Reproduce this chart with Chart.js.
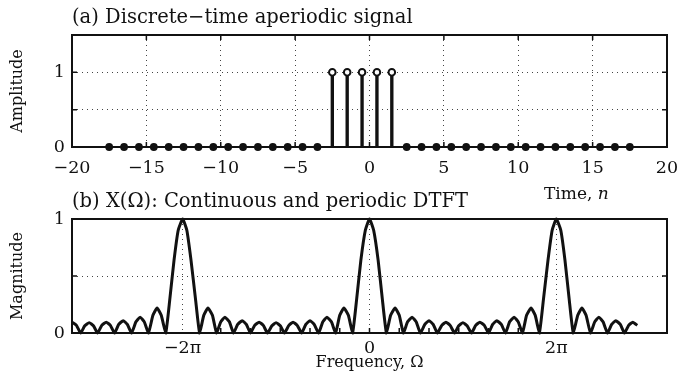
<!DOCTYPE html>
<html>
<head>
<meta charset="utf-8">
<script src="https://cdn.jsdelivr.net/npm/chart.js@4.4.0/dist/chart.umd.min.js"></script>
<style>
  html, body { margin: 0; padding: 0; background: #fff; }
  #wrap { position: relative; width: 680px; height: 383px; overflow: hidden; font-family: "DejaVu Serif", serif; }
  canvas { position: absolute; left: 0; }
  #timeLabel { position: absolute; left: 544px; top: 183px; font-size: 17px; line-height: 20px; color: #111; white-space: nowrap; z-index: 5; }
</style>
</head>
<body>
<div id="wrap">
  <canvas id="sigChart" width="680" height="190" style="top:0"></canvas>
  <canvas id="dtftChart" width="680" height="199" style="top:184px"></canvas>
  <div id="timeLabel">Time, <i>n</i></div>
</div>
<script>
// (a) discrete-time signal
const timeN = [-17.5, -16.5, -15.5, -14.5, -13.5, -12.5, -11.5, -10.5, -9.5, -8.5, -7.5, -6.5,
  -5.5, -4.5, -3.5, -2.5, -1.5, -0.5, 0.5, 1.5, 2.5, 3.5, 4.5, 5.5, 6.5, 7.5, 8.5, 9.5,
  10.5, 11.5, 12.5, 13.5, 14.5, 15.5, 16.5, 17.5];
const amplitude = [0, 0, 0, 0, 0, 0, 0, 0, 0, 0, 0, 0, 0, 0, 0,
  1, 1, 1, 1, 1,
  0, 0, 0, 0, 0, 0, 0, 0, 0, 0, 0, 0, 0, 0, 0, 0];
const timeTicks = [-20, -15, -10, -5, 0, 5, 10, 15, 20];
const ampTicks = [0, 0.5, 1, 1.5];
const ampLabels = ['0', '', '1', ''];

// (b) DTFT magnitude (nulls, lobe flanks and peaks)
const freq = [
  -10.00, -9.85, -9.71,
  -9.57, -9.42, -9.28, -9.14,
  -9.00, -8.85, -8.71, -8.57,
  -8.43, -8.28, -8.14, -8.00,
  -7.85, -7.71, -7.57, -7.43,
  -7.28, -7.14, -7.00, -6.85,
  -6.71, -6.57, -6.43, -6.28, -6.14, -6.00, -5.85, -5.71,
  -5.57, -5.43, -5.28, -5.14,
  -5.00, -4.86, -4.71, -4.57,
  -4.43, -4.28, -4.14, -4.00,
  -3.86, -3.71, -3.57, -3.43,
  -3.28, -3.14, -3.00, -2.86,
  -2.71, -2.57, -2.43, -2.28,
  -2.14, -2.00, -1.86, -1.71,
  -1.57, -1.43, -1.28, -1.14,
  -1.00, -0.86, -0.71, -0.57,
  -0.43, -0.29, -0.14, 0, 0.14, 0.29, 0.43, 0.57,
  0.71, 0.86, 1.00, 1.14,
  1.28, 1.43, 1.57, 1.71,
  1.86, 2.00, 2.14, 2.28,
  2.43, 2.57, 2.71, 2.86,
  3.00, 3.14, 3.28, 3.43,
  3.57, 3.71, 3.86, 4.00,
  4.14, 4.28, 4.43, 4.57,
  4.71, 4.86, 5.00, 5.14,
  5.28, 5.43, 5.57, 5.71,
  5.85, 6.00, 6.14, 6.28, 6.43, 6.57, 6.71, 6.85,
  7.00, 7.14, 7.28, 7.43,
  7.57, 7.71, 7.85, 8.00,
  8.14, 8.28, 8.43, 8.57,
  8.71, 8.85, 9.00
];
const magnitude = [
  0.095, 0.067, 0,
  0.064, 0.091, 0.064, 0,
  0.067, 0.095, 0.067, 0,
  0.076, 0.108, 0.076, 0,
  0.098, 0.139, 0.098, 0,
  0.155, 0.219, 0.155, 0,
  0.302, 0.639, 0.901, 1, 0.901, 0.639, 0.302, 0,
  0.155, 0.219, 0.155, 0,
  0.098, 0.139, 0.098, 0,
  0.076, 0.108, 0.076, 0,
  0.067, 0.095, 0.067, 0,
  0.064, 0.091, 0.064, 0,
  0.067, 0.095, 0.067, 0,
  0.076, 0.108, 0.076, 0,
  0.098, 0.139, 0.098, 0,
  0.155, 0.219, 0.155, 0,
  0.302, 0.639, 0.901, 1, 0.901, 0.639, 0.302, 0,
  0.155, 0.219, 0.155, 0,
  0.098, 0.139, 0.098, 0,
  0.076, 0.108, 0.076, 0,
  0.067, 0.095, 0.067, 0,
  0.064, 0.091, 0.064, 0,
  0.067, 0.095, 0.067, 0,
  0.076, 0.108, 0.076, 0,
  0.098, 0.139, 0.098, 0,
  0.155, 0.219, 0.155, 0,
  0.302, 0.639, 0.901, 1, 0.901, 0.639, 0.302, 0,
  0.155, 0.219, 0.155, 0,
  0.098, 0.139, 0.098, 0,
  0.076, 0.108, 0.076, 0,
  0.067, 0.095, 0.067
];
const freqTicks = [-2 * Math.PI, 0, 2 * Math.PI];
const freqLabels = ['\u22122\u03c0', '0', '2\u03c0'];
const freqMinorTicks = [-5, -4, -3, -2, -1, 0, 1, 2, 3, 4, 5];
const magTicks = [0, 0.5, 1];
const magLabels = ['0', '', '1'];

const ink = '#111';
const serif = '"DejaVu Serif", serif';

// box round the plot area plus the little inward ticks matlab draws
const frameTicks = {
  id: 'frameTicks',
  afterDraw(chart, args, opts) {
    const { ctx, chartArea: a, scales } = chart;
    const len = 5;
    ctx.save();
    ctx.strokeStyle = ink;
    ctx.lineWidth = 1.5;
    ctx.beginPath();
    for (const v of opts.x) {
      const px = scales.x.getPixelForValue(v);
      ctx.moveTo(px, a.bottom); ctx.lineTo(px, a.bottom - len);
      if (opts.top) { ctx.moveTo(px, a.top); ctx.lineTo(px, a.top + len); }
    }
    for (const v of opts.y) {
      const py = scales.y.getPixelForValue(v);
      ctx.moveTo(a.left, py); ctx.lineTo(a.left + len, py);
      ctx.moveTo(a.right, py); ctx.lineTo(a.right - len, py);
    }
    ctx.stroke();
    ctx.lineWidth = 2;
    ctx.strokeRect(a.left, a.top, a.right - a.left, a.bottom - a.top);
    ctx.restore();
  }
};

function dotted() {
  return { color: '#444', lineWidth: 1, borderDash: [1, 4], drawTicks: false };
}

let pts = timeN.map((n, i) => ({ x: n, y: amplitude[i] }));

new Chart(document.getElementById('sigChart'), {
  type: 'bar',
  data: {
    datasets: [{
      type: 'bar',
      data: pts,
      backgroundColor: ink,
      barThickness: 2.7,
      order: 2
    }, {
      type: 'scatter',
      data: pts.filter(p => p.y === 0),
      pointRadius: 3.9,
      pointBackgroundColor: ink,
      pointBorderColor: ink,
      pointBorderWidth: 0,
      clip: false,
      order: 1
    }, {
      type: 'scatter',
      data: pts.filter(p => p.y !== 0),
      pointRadius: 3.3,
      pointBackgroundColor: '#fff',
      pointBorderColor: ink,
      pointBorderWidth: 2,
      clip: false,
      order: 0
    }]
  },
  options: {
    responsive: false,
    animation: false,
    layout: { padding: { left: 0, right: 13, top: 0, bottom: 0 } },
    plugins: {
      legend: { display: false },
      tooltip: { enabled: false },
      title: {
        display: true,
        text: '(a) Discrete\u2212time aperiodic signal',
        align: 'start',
        fullSize: false,
        color: ink,
        font: { family: serif, size: 19.5, weight: 'normal' },
        padding: { top: 6, bottom: 5.6 }
      },
      frameTicks: { x: timeTicks, y: [0.5, 1], top: true }
    },
    scales: {
      x: {
        type: 'linear',
        min: -20, max: 20,
        offset: false,
        afterFit: s => { s.height = 43; s.paddingLeft = 0; s.paddingRight = 0; },
        afterBuildTicks: s => { s.ticks = timeTicks.map(v => ({ value: v })); },
        ticks: {
          color: ink, padding: 10.5, maxRotation: 0,
          font: { family: serif, size: 17.5 },
          callback: v => String(v).replace('-', '\u2212')
        },
        grid: Object.assign(dotted(), { offset: false }),
        border: { display: false, dash: [1, 4] }
      },
      y: {
        min: 0, max: 1.5,
        afterFit: s => { s.width = 72; s.paddingTop = 0; s.paddingBottom = 0; },
        afterBuildTicks: s => { s.ticks = ampTicks.map(v => ({ value: v })); },
        ticks: {
          color: ink, padding: 7,
          font: { family: serif, size: 17.5 },
          callback: (v, i) => ampLabels[i]
        },
        grid: dotted(),
        border: { display: false, dash: [1, 4] },
        title: {
          display: true, text: 'Amplitude', color: ink,
          font: { family: serif, size: 16 },
          padding: { top: 8, bottom: 0 }
        }
      }
    }
  },
  plugins: [frameTicks]
});

new Chart(document.getElementById('dtftChart'), {
  type: 'scatter',
  data: {
    datasets: [{
      data: freq.map((w, i) => ({ x: w, y: magnitude[i] })),
      showLine: true,
      borderColor: ink,
      borderWidth: 3,
      pointRadius: 0,
      tension: 0.15,
      clip: false
    }]
  },
  options: {
    responsive: false,
    animation: false,
    layout: { padding: { left: 0, right: 13, top: 0, bottom: 0 } },
    plugins: {
      legend: { display: false },
      tooltip: { enabled: false },
      title: {
        display: true,
        text: '(b) X(\u03a9): Continuous and periodic DTFT',
        align: 'start',
        fullSize: false,
        color: ink,
        font: { family: serif, size: 19.5, weight: 'normal' },
        padding: { top: 6, bottom: 5.6 }
      },
      frameTicks: { x: freqMinorTicks, y: [0.5], top: false }
    },
    scales: {
      x: {
        type: 'linear',
        min: -10, max: 10,
        afterFit: s => { s.height = 50; s.paddingLeft = 0; s.paddingRight = 0; },
        afterBuildTicks: s => { s.ticks = freqTicks.map(v => ({ value: v })); },
        ticks: {
          color: ink, padding: 4.5, maxRotation: 0,
          font: { family: serif, size: 17.5 },
          callback: (v, i) => freqLabels[i]
        },
        grid: dotted(),
        border: { display: false, dash: [1, 4] },
        title: {
          display: true, text: 'Frequency, \u03a9', color: ink,
          font: { family: serif, size: 16 },
          padding: { top: 0, bottom: 10.8 }
        }
      },
      y: {
        min: 0, max: 1,
        afterFit: s => { s.width = 72; s.paddingTop = 0; s.paddingBottom = 0; },
        afterBuildTicks: s => { s.ticks = magTicks.map(v => ({ value: v })); },
        ticks: {
          color: ink, padding: 7,
          font: { family: serif, size: 17.5 },
          callback: (v, i) => magLabels[i]
        },
        grid: dotted(),
        border: { display: false, dash: [1, 4] },
        title: {
          display: true, text: 'Magnitude', color: ink,
          font: { family: serif, size: 16 },
          padding: { top: 8, bottom: 0 }
        }
      }
    }
  },
  plugins: [frameTicks]
});
</script>
</body>
</html>
